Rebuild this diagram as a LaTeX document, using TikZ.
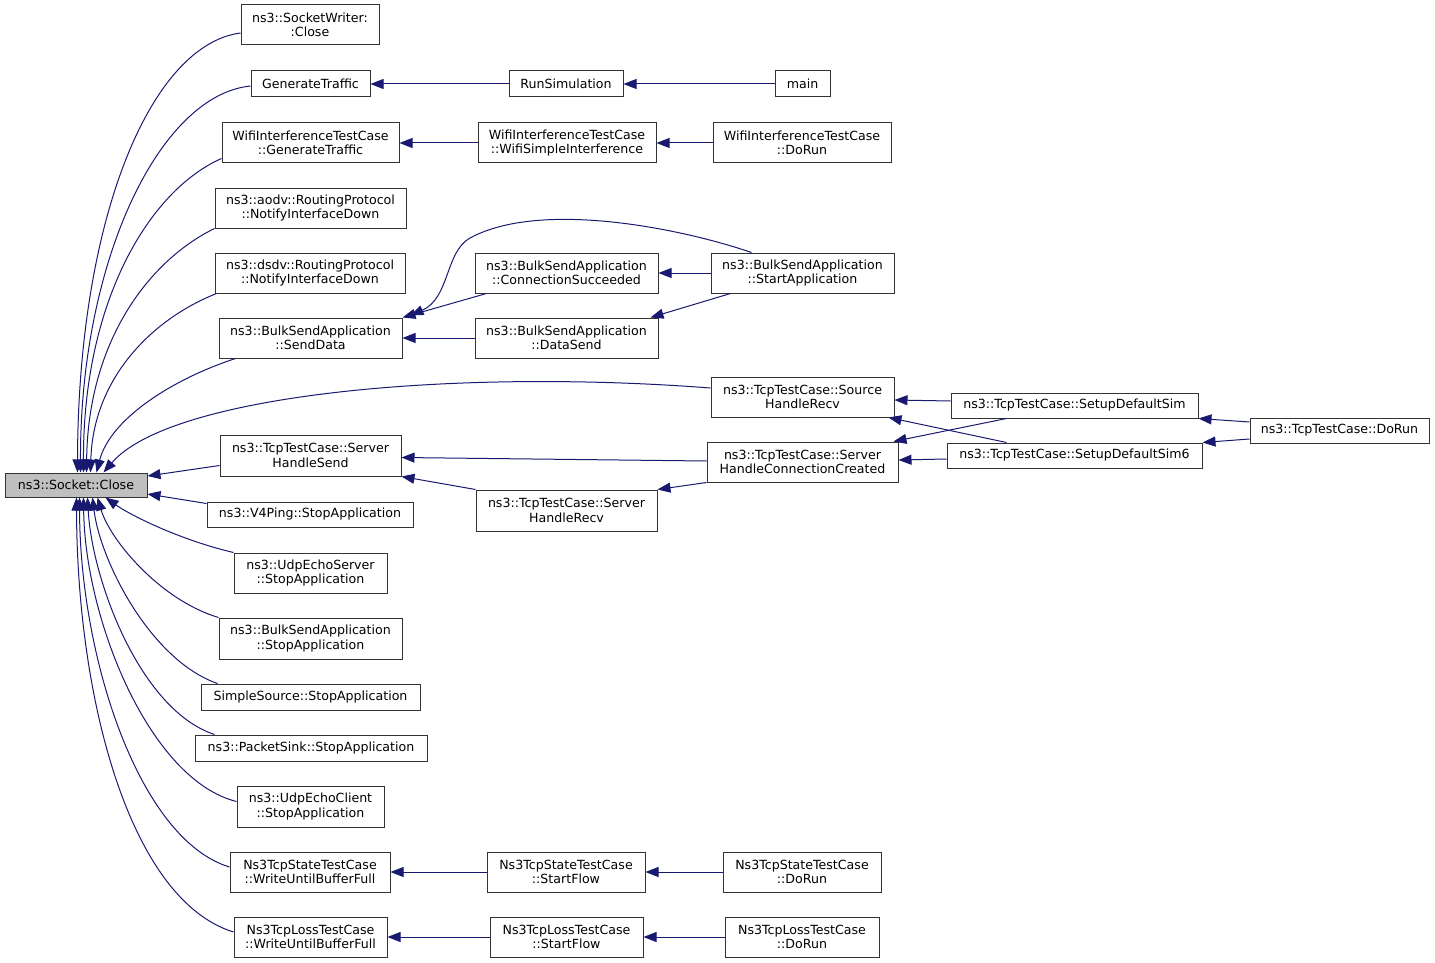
\documentclass[tikz,border=0pt]{standalone}
\usepackage{fontspec}
\setmainfont{DejaVu Sans}
\usetikzlibrary{arrows.meta,calc}
\definecolor{edgec}{HTML}{191970}
\definecolor{closefill}{HTML}{BFBFBF}
\tikzset{
 box/.style={draw=black!80, line width=1pt, fill=white, inner sep=0pt, align=center, font=\fontsize{12.6}{14.5}\selectfont},
 call/.style={draw=edgec, line width=1pt, -{Triangle[length=13pt,width=10pt]}},
}
\newcommand\bx[7][]{\node[box,#1, minimum width={(#5-#3)*1pt}, minimum height={(#6-#4)*1pt}] (#2) at ({(#3+#5)/2},{(#4+#6)/2}) {#7};}
\begin{document}
\begin{tikzpicture}[x=1pt,y=-1pt]
\useasboundingbox (0,0) rectangle (1435,963);
% nodes
\bx[fill=closefill]{cl}{5}{473}{147}{497}{ns3::Socket::Close}
\bx{sw}{241}{5}{379}{45}{ns3::SocketWriter:\\:Close}
\bx{gt}{251}{71}{370}{97}{GenerateTraffic}
\bx{rs}{509}{71}{623}{97}{RunSimulation}
\bx{mn}{775}{71}{830}{97}{main}
\bx{wg}{222}{123}{399}{163}{WifiInterferenceTestCase\\::GenerateTraffic}
\bx{wsi}{478}{123}{656}{163}{WifiInterferenceTestCase\\::WifiSimpleInterference}
\bx{wdr}{713}{123}{891}{163}{WifiInterferenceTestCase\\::DoRun}
\bx{aodv}{215}{188}{406}{228}{ns3::aodv::RoutingProtocol\\::NotifyInterfaceDown}
\bx{dsdv}{215}{253}{405}{293}{ns3::dsdv::RoutingProtocol\\::NotifyInterfaceDown}
\bx{sd}{219}{318}{402}{358}{ns3::BulkSendApplication\\::SendData}
\bx{cs}{475}{253}{658}{293}{ns3::BulkSendApplication\\::ConnectionSucceeded}
\bx{dsn}{475}{318}{658}{358}{ns3::BulkSendApplication\\::DataSend}
\bx{sa}{711}{253}{894}{293}{ns3::BulkSendApplication\\::StartApplication}
\bx{srh}{711}{377}{894}{417}{ns3::TcpTestCase::Source\\HandleRecv}
\bx{shcc}{707}{442}{898}{482}{ns3::TcpTestCase::Server\\HandleConnectionCreated}
\bx{sds}{951}{393}{1198}{418}{ns3::TcpTestCase::SetupDefaultSim}
\bx{sds6}{947}{443}{1202}{468}{ns3::TcpTestCase::SetupDefaultSim6}
\bx{tdr}{1250}{418}{1429}{443}{ns3::TcpTestCase::DoRun}
\bx{shs}{220}{435}{401}{476}{ns3::TcpTestCase::Server\\HandleSend}
\bx{shr}{476}{490}{657}{531}{ns3::TcpTestCase::Server\\HandleRecv}
\bx{v4}{207}{502}{413}{527}{ns3::V4Ping::StopApplication}
\bx{ues}{234}{553}{387}{593}{ns3::UdpEchoServer\\::StopApplication}
\bx{bss}{219}{618}{402}{659}{ns3::BulkSendApplication\\::StopApplication}
\bx{ss}{201}{684}{420}{710}{SimpleSource::StopApplication}
\bx{ps}{195}{735}{427}{761}{ns3::PacketSink::StopApplication}
\bx{uec}{237}{786}{384}{827}{ns3::UdpEchoClient\\::StopApplication}
\bx{swu}{230}{852}{390}{892}{Ns3TcpStateTestCase\\::WriteUntilBufferFull}
\bx{ssf}{487}{852}{645}{892}{Ns3TcpStateTestCase\\::StartFlow}
\bx{sdr}{723}{852}{881}{892}{Ns3TcpStateTestCase\\::DoRun}
\bx{lwu}{234}{917}{387}{957}{Ns3TcpLossTestCase\\::WriteUntilBufferFull}
\bx{lsf}{490}{917}{643}{957}{Ns3TcpLossTestCase\\::StartFlow}
\bx{ldr}{725}{917}{879}{957}{Ns3TcpLossTestCase\\::DoRun}
% edges into Socket::Close (upper)
\draw[call] ([yshift=-8pt]sw.west) .. controls (150,45) and (78,220) .. ([xshift=73pt]cl.north west);
\draw[call] ([yshift=-2pt]gt.west) .. controls (160,95) and (80,260) .. ([xshift=76pt]cl.north west);
\draw[call] ([yshift=5pt]wg.south west) .. controls (150,190) and (83,300) .. ([xshift=79pt]cl.north west);
\draw[call] (aodv.south west) .. controls (150,260) and (88,340) .. ([xshift=82pt]cl.north west);
\draw[call] ([xshift=2pt]dsdv.south west) .. controls (150,320) and (93,380) .. ([xshift=86pt]cl.north west);
\draw[call] ([xshift=17pt]sd.south west) .. controls (170,380) and (110,420) .. ([xshift=92pt]cl.north west);
\draw[call] ([yshift=9pt]srh.west) .. controls (450,368) and (170,395) .. ([xshift=99pt]cl.north west);
\draw[call] ([yshift=-10pt]shs.west) -- ([yshift=9pt]cl.east);
% lower
\draw[call] ([yshift=-2pt]v4.north west) -- ([yshift=-9pt]cl.east);
\draw[call] (ues.north west) .. controls (180,540) and (130,515) .. ([xshift=101pt]cl.south west);
\draw[call] (bss.north west) .. controls (160,600) and (110,540) .. ([xshift=93pt]cl.south west);
\draw[call] ([xshift=17pt]ss.north west) .. controls (150,660) and (100,560) .. ([xshift=88pt]cl.south west);
\draw[call] ([xshift=20pt]ps.north west) .. controls (140,710) and (92,580) .. ([xshift=83pt]cl.south west);
\draw[call] ([yshift=5pt]uec.west) .. controls (150,780) and (85,620) .. ([xshift=79pt]cl.south west);
\draw[call] ([yshift=5pt]swu.west) .. controls (140,840) and (80,660) .. ([xshift=75pt]cl.south west);
\draw[call] ([yshift=5pt]lwu.west) .. controls (130,900) and (77,700) .. ([xshift=72pt]cl.south west);
% other edges
\draw[call] (rs.west) -- (gt.east);
\draw[call] (mn.west) -- (rs.east);
\draw[call] (wsi.west) -- (wg.east);
\draw[call] (wdr.west) -- (wsi.east);
\draw[call] ([xshift=12pt]cs.south west) -- (sd.north east);
\draw[call] (dsn.west) -- (sd.east);
\draw[call] ([xshift=41pt]sa.north west) .. controls (680,228) and (540,200) .. (470,238) .. controls (445,252) and (450,298) .. ([xshift=8pt,yshift=2pt]sd.north east);
\draw[call] (sa.west) -- (cs.east);
\draw[call] ([xshift=20pt]sa.south west) -- ([xshift=-8pt]dsn.north east);
\draw[call] ([yshift=4.5pt]sds.west) -- ([yshift=-3pt]srh.east);
\draw[call] ([xshift=56pt]sds.south west) -- ([xshift=-5pt]shcc.north east);
\draw[call] ([xshift=60pt]sds6.north west) -- ([xshift=-6pt]srh.south east);
\draw[call] ([yshift=-3.5pt]sds6.west) -- ([yshift=2pt]shcc.east);
\draw[call] ([yshift=8.5pt]tdr.west) -- (sds.south east);
\draw[call] ([yshift=-8.5pt]tdr.west) -- (sds6.north east);
\draw[call] ([yshift=1pt]shcc.west) -- ([yshift=-2pt]shs.east);
\draw[call] (shcc.south west) -- (shr.north east);
\draw[call] (shr.north west) -- (shs.south east);
\draw[call] (ssf.west) -- (swu.east);
\draw[call] (sdr.west) -- (ssf.east);
\draw[call] (lsf.west) -- (lwu.east);
\draw[call] (ldr.west) -- (lsf.east);
\end{tikzpicture}
\end{document}
